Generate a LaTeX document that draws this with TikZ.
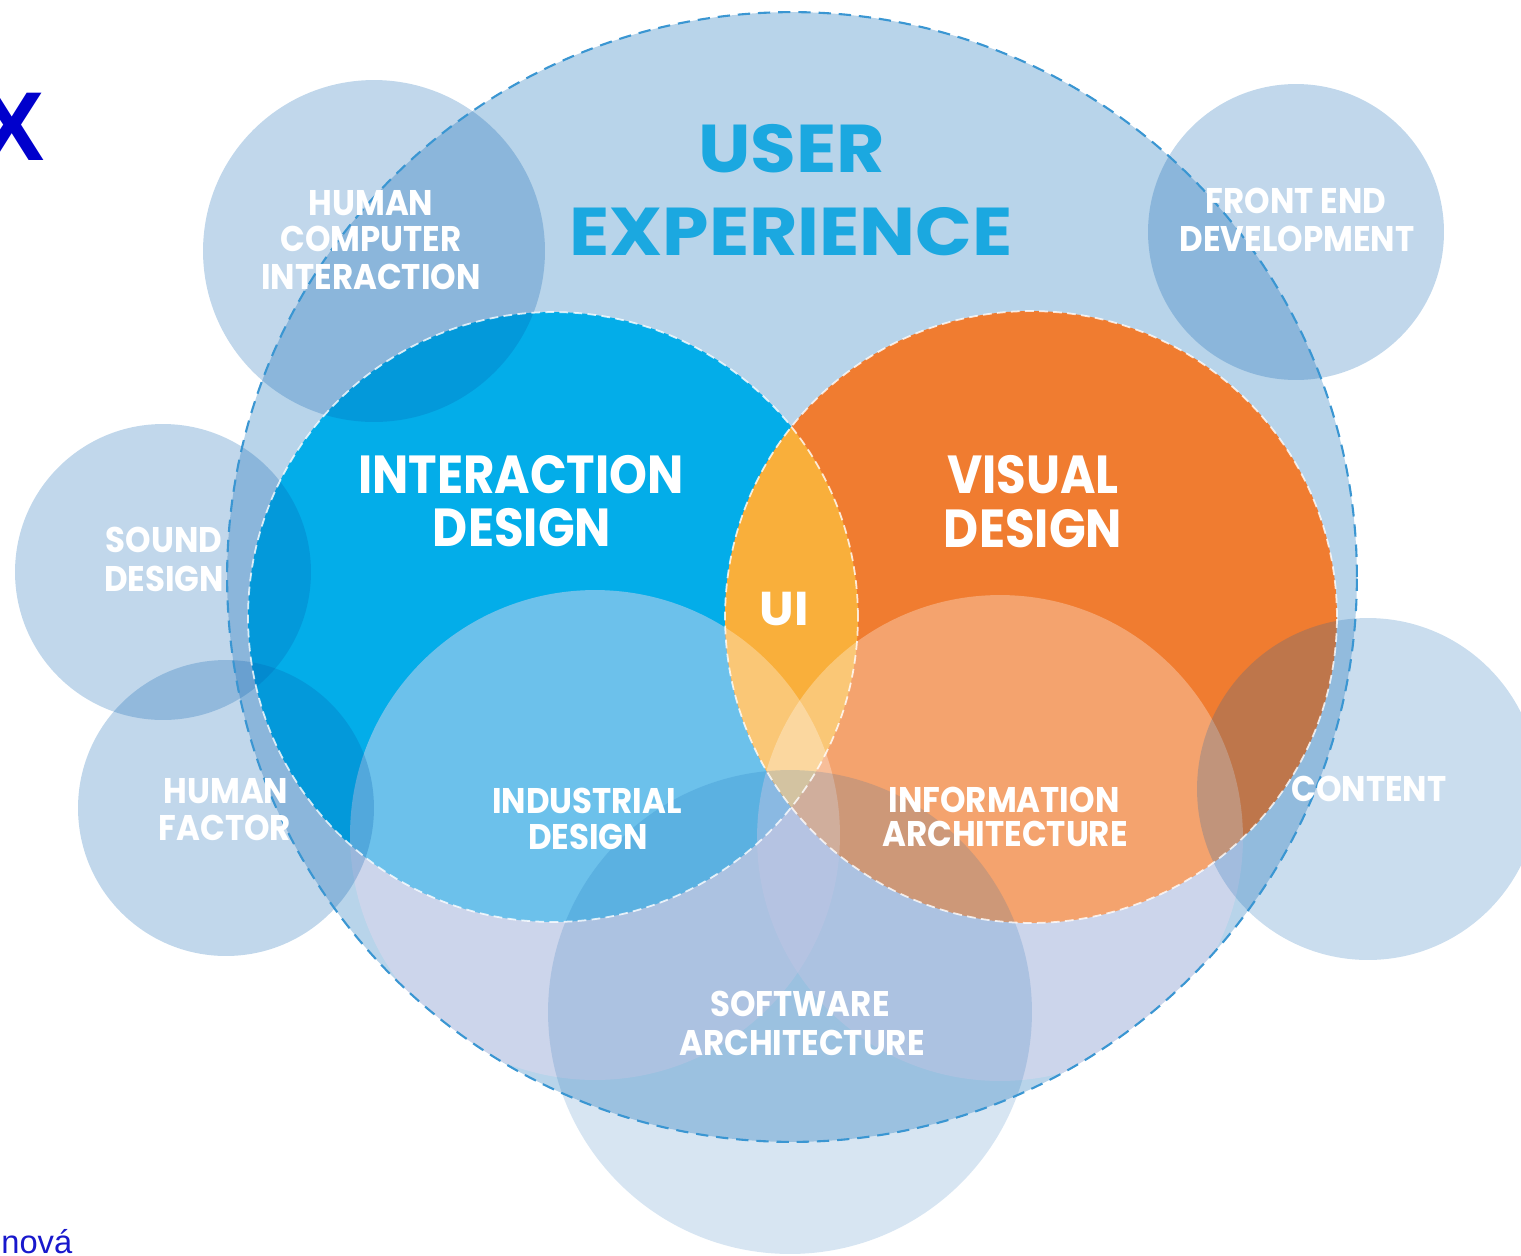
\documentclass[tikz,border=0pt]{standalone}
\usepackage{fontspec}
\setmainfont{Liberation Sans}
\newfontfamily\pop{Poppins}
\definecolor{uxfill}{HTML}{B8D4EA}
\definecolor{uxline}{HTML}{3A96D2}
\definecolor{ixd}{HTML}{03ADE9}
\definecolor{vis}{HTML}{F07C30}
\definecolor{uicol}{HTML}{F9AF3B}
\definecolor{sat}{HTML}{0660B0}
\definecolor{lav}{HTML}{E4D8EE}
\definecolor{uxtext}{HTML}{1BA8E0}
\definecolor{xblue}{HTML}{0000CC}
\definecolor{novablue}{HTML}{1818CC}
\begin{document}
\begin{tikzpicture}[x=0.02cm,y=-0.02cm,
  big/.style={inner sep=0pt,anchor=base,text=white,xscale=.9,transform shape,font=\pop\bfseries\fontsize{30.5}{30.5}\selectfont},
  small/.style={inner sep=0pt,anchor=base,text=white,xscale=.91,transform shape,font=\pop\bfseries\fontsize{20.3}{20.3}\selectfont},
  title/.style={inner sep=0pt,anchor=base,text=uxtext,xscale=1.1,transform shape,font=\pop\bfseries\fontsize{38.5}{38.5}\selectfont},
  satfill/.style={fill=sat,opacity=.25},
  overlay/.style={fill=lav,opacity=.47},
  whiteov/.style={fill=white,opacity=.3},
  mainedge/.style={draw=white,line width=1pt,dash pattern=on 5pt off 3pt,opacity=.8}]
\useasboundingbox (0,0) rectangle (1521,1255);
% centres
\coordinate (ux) at (792,577);
\coordinate (ixd) at (553,617);
\coordinate (vis) at (1031,617);
\coordinate (ind) at (595,835);
\coordinate (info) at (1000,838);
\coordinate (hci) at (374,251);
\coordinate (fed) at (1296,232);
\coordinate (snd) at (163,572);
\coordinate (hf) at (226,808);
\coordinate (cnt) at (1368,789);
\coordinate (sa) at (790,1012);
% user experience
\fill[uxfill] (ux) circle[radius=11.3cm];
% interaction design
\fill[ixd] (ixd) circle[radius=6.1cm];
\begin{scope}
  \clip (ux) circle[radius=11.3cm];
  \fill[overlay] (ind) circle[radius=4.9cm];
  \fill[overlay] (info) circle[radius=4.86cm];
\end{scope}
% visual design
\fill[vis] (vis) circle[radius=6.12cm];
\begin{scope}
  \clip (ixd) circle[radius=6.1cm];
  \fill[uicol] (vis) circle[radius=6.12cm];
\end{scope}
\begin{scope}
  \clip (vis) circle[radius=6.12cm];
  \fill[whiteov] (ind) circle[radius=4.9cm];
  \fill[whiteov] (info) circle[radius=4.86cm];
\end{scope}
% satellites
\fill[satfill] (hci) circle[radius=3.42cm];
\fill[satfill] (fed) circle[radius=2.96cm];
\fill[satfill] (snd) circle[radius=2.96cm];
\fill[satfill] (hf) circle[radius=2.96cm];
\fill[fill=sat,opacity=.21] (cnt) circle[radius=3.42cm];
\fill[fill=sat,opacity=.16] (sa) circle[radius=4.84cm];
% edges
\draw[mainedge] (ixd) circle[radius=6.1cm];
\draw[mainedge] (vis) circle[radius=6.12cm];
\draw[uxline,line width=1.2pt,dash pattern=on 7pt off 4.5pt] (ux) circle[radius=11.3cm];
% texts
\node[title] (t1) at (792,172) {USER};
\node[title] (t2) at (791,255) {EXPERIENCE};
\node[big] (i1) at (521,493) {INTERACTION};
\node[big] (i2) at (522,546) {DESIGN};
\node[big] (v1) at (1033,493) {VISUAL};
\node[big] (v2) at (1033,547) {DESIGN};
\node[big,xscale=1.15,font=\pop\bfseries\fontsize{27}{27}\selectfont] (ui) at (784,625) {UI};
\node[small] (d1) at (587,813) {INDUSTRIAL};
\node[small] (d2) at (588,849) {DESIGN};
\node[small] (a1) at (1004,812) {INFORMATION};
\node[small] (a2) at (1005,846) {ARCHITECTURE};
\node[small] (s1) at (800,1016) {SOFTWARE};
\node[small] (s2) at (802,1055) {ARCHITECTURE};
\node[small] (c1) at (1369,801) {CONTENT};
\node[small] (h1) at (371,215) {HUMAN};
\node[small] (h2) at (371,251) {COMPUTER};
\node[small] (h3) at (371,289) {INTERACTION};
\node[small] (f1) at (1296,213) {FRONT END};
\node[small] (f2) at (1297,251) {DEVELOPMENT};
\node[small] (o1) at (164,552) {SOUND};
\node[small] (o2) at (164,591) {DESIGN};
\node[small] (m1) at (226,803) {HUMAN};
\node[small] (m2) at (225,840) {FACTOR};
\node[inner sep=0pt,anchor=base,text=xblue,font=\bfseries\fontsize{55.7}{55.7}\selectfont] (x) at (12,160) {X};
\node[inner sep=0pt,anchor=base west,text=novablue,font=\fontsize{18.6}{18.6}\selectfont] (nova) at (1,1253) {nová};
\end{tikzpicture}
\end{document}
